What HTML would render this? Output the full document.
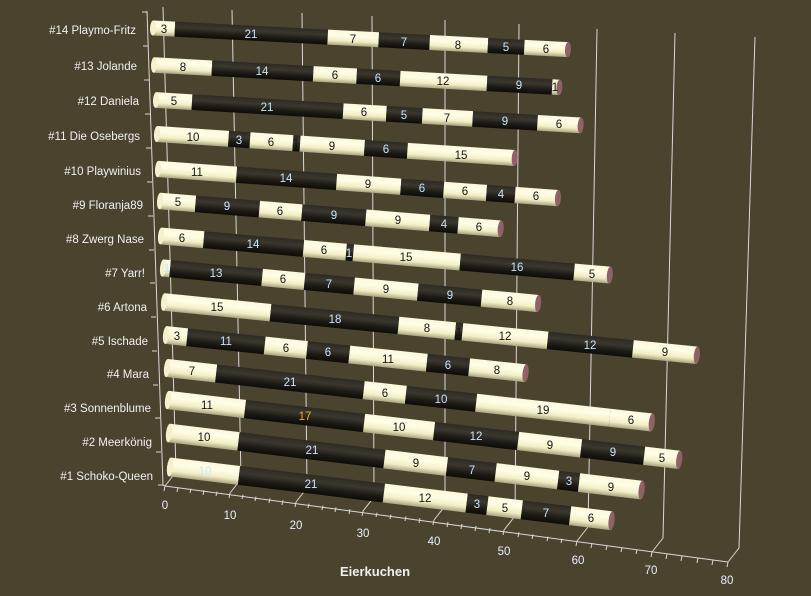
<!DOCTYPE html>
<html><head><meta charset="utf-8"><style>
html,body{margin:0;padding:0;background:#4a442e;}
svg{display:block;font-family:"Liberation Sans",sans-serif;}
.cl{fill:#f0f0f0;font-size:11.5px;text-anchor:end;}
.al{fill:#e8f0ff;font-size:11.5px;text-anchor:middle;}
.d{fill:#c8e4ff;font-size:11.5px;text-anchor:middle;}
.c{fill:#151515;font-size:11.5px;text-anchor:middle;}
.g{stroke:#d8d8d8;stroke-width:1;fill:none;}
</style></head><body>
<svg width="811" height="596" viewBox="0 0 811 596" xmlns="http://www.w3.org/2000/svg">
<defs>
<linearGradient id="cr" x1="0" y1="0" x2="0" y2="1">
<stop offset="0" stop-color="#fbf8dc"/><stop offset="0.35" stop-color="#fffde6"/><stop offset="0.7" stop-color="#f2eec4"/><stop offset="1" stop-color="#a9a582"/></linearGradient>
<linearGradient id="dk" x1="0" y1="0" x2="0" y2="1">
<stop offset="0" stop-color="#2c2a22"/><stop offset="0.35" stop-color="#3a382e"/><stop offset="0.7" stop-color="#1c1a14"/><stop offset="1" stop-color="#0c0b08"/></linearGradient>
</defs>
<rect width="811" height="596" fill="#4a442e"/>

<g class="g">
<polyline points="163,7 176,472 165,486"/>
<polyline points="232,10 241,479 230,493"/>
<polyline points="302,13 307,488 296,502"/>
<polyline points="372,16 374,497 363,511"/>
<polyline points="445,20 445,506 434,520"/>
<polyline points="519,24 515,516 504,530"/>
<polyline points="597,29 588,527 577,541"/>
<polyline points="675,33 663,538 652,552"/>
<polyline points="755,37 739,548 728,562"/>
<polyline points="147,11 163,485 165,486 728,562"/>
</g>
<g class="g">
<line x1="142" y1="12" x2="147" y2="12"/><line x1="143" y1="46" x2="148" y2="46"/><line x1="144" y1="80" x2="149" y2="80"/><line x1="145" y1="114" x2="150" y2="114"/><line x1="146" y1="148" x2="151" y2="148"/><line x1="147" y1="182" x2="152" y2="182"/><line x1="148" y1="216" x2="153" y2="216"/><line x1="149" y1="250" x2="154" y2="250"/><line x1="150" y1="283" x2="155" y2="283"/><line x1="151" y1="317" x2="156" y2="317"/><line x1="152" y1="351" x2="157" y2="351"/><line x1="153" y1="385" x2="158" y2="385"/><line x1="155" y1="418" x2="160" y2="418"/><line x1="156" y1="452" x2="161" y2="452"/><line x1="158" y1="485" x2="163" y2="485"/>
</g>
<g class="g">
<line x1="165" y1="486" x2="164" y2="491"/><line x1="178" y1="487.4" x2="177" y2="492"/><line x1="191" y1="488.8" x2="190" y2="493"/><line x1="204" y1="490.2" x2="203" y2="495"/><line x1="217" y1="491.6" x2="216" y2="496"/><line x1="230" y1="493" x2="229" y2="498"/>
<line x1="243" y1="494.8" x2="242" y2="499"/><line x1="256" y1="496.6" x2="255" y2="501"/><line x1="270" y1="498.4" x2="269" y2="503"/><line x1="283" y1="500.2" x2="282" y2="505"/><line x1="296" y1="502" x2="295" y2="507"/>
<line x1="309" y1="503.8" x2="308" y2="508"/><line x1="323" y1="505.6" x2="322" y2="510"/><line x1="336" y1="507.4" x2="335" y2="512"/><line x1="350" y1="509.2" x2="349" y2="514"/><line x1="363" y1="511" x2="362" y2="516"/>
<line x1="377" y1="512.8" x2="376" y2="517"/><line x1="391" y1="514.6" x2="390" y2="519"/><line x1="406" y1="516.4" x2="405" y2="521"/><line x1="420" y1="518.2" x2="419" y2="523"/><line x1="434" y1="520" x2="433" y2="525"/>
<line x1="448" y1="522" x2="447" y2="527"/><line x1="462" y1="524" x2="461" y2="529"/><line x1="476" y1="526" x2="475" y2="531"/><line x1="490" y1="528" x2="489" y2="533"/><line x1="504" y1="530" x2="503" y2="535"/>
<line x1="519" y1="532.2" x2="518" y2="537"/><line x1="533" y1="534.4" x2="532" y2="539"/><line x1="548" y1="536.6" x2="547" y2="541"/><line x1="562" y1="538.8" x2="561" y2="543"/><line x1="577" y1="541" x2="576" y2="546"/>
<line x1="592" y1="543.2" x2="591" y2="548"/><line x1="607" y1="545.4" x2="606" y2="550"/><line x1="622" y1="547.6" x2="621" y2="552"/><line x1="637" y1="549.8" x2="636" y2="554"/><line x1="652" y1="552" x2="651" y2="557"/>
<line x1="667" y1="554" x2="666" y2="559"/><line x1="682" y1="556" x2="681" y2="561"/><line x1="698" y1="558" x2="697" y2="563"/><line x1="713" y1="560" x2="712" y2="565"/><line x1="728" y1="562" x2="727" y2="567"/>
</g>
<g class="al">
<text x="165" y="509">0</text><text x="230" y="519">10</text><text x="296" y="529">20</text><text x="363" y="537">30</text><text x="434" y="545">40</text><text x="504" y="555">50</text><text x="578" y="564">60</text><text x="651" y="574">70</text><text x="727" y="584">80</text>
</g>
<text x="375" y="576" text-anchor="middle" style="fill:#f0f0f0;font-size:13px;font-weight:bold">Eierkuchen</text>

<g class="cl">
<text x="136" y="34">#14 Playmo-Fritz</text>
<text x="137" y="70">#13 Jolande</text>
<text x="139" y="105">#12 Daniela</text>
<text x="140" y="140">#11 Die Osebergs</text>
<text x="141" y="175">#10 Playwinius</text>
<text x="143" y="209">#9 Floranja89</text>
<text x="144" y="243">#8 Zwerg Nase</text>
<text x="145" y="277">#7 Yarr!</text>
<text x="147" y="311">#6 Artona</text>
<text x="148" y="345">#5 Ischade</text>
<text x="149" y="378">#4 Mara</text>
<text x="151" y="412">#3 Sonnenblume</text>
<text x="152" y="446">#2 Meerkönig</text>
<text x="153" y="480">#1 Schoko-Queen</text>
</g>

<!-- Row 14 -->
<g transform="translate(153,28) rotate(2.99)">
<g transform="scale(7.29,1)">
<rect x="0" y="-7.5" width="3" height="15" fill="url(#cr)"/><rect x="3" y="-7.5" width="21" height="15" fill="url(#dk)"/><rect x="24" y="-7.5" width="7" height="15" fill="url(#cr)"/><rect x="31" y="-7.5" width="7" height="15" fill="url(#dk)"/><rect x="38" y="-7.5" width="8" height="15" fill="url(#cr)"/><rect x="46" y="-7.5" width="5" height="15" fill="url(#dk)"/><rect x="51" y="-7.5" width="6" height="15" fill="url(#cr)"/>
</g>
<ellipse cx="0" cy="0" rx="3" ry="7.5" fill="#f4f1cf"/><ellipse cx="415.5" cy="0" rx="3" ry="7.5" fill="#8e6266"/>
<g transform="rotate(-2.99)"><text class="c" x="11" y="5">3</text><text class="d" x="98" y="10">21</text><text class="c" x="200" y="15">7</text><text class="d" x="251" y="18">7</text><text class="c" x="305" y="21">8</text><text class="d" x="353" y="23">5</text><text class="c" x="393" y="25">6</text></g>
</g>
<!-- Row 13 -->
<g transform="translate(154,65) rotate(3.16)">
<g transform="scale(7.25,1)">
<rect x="0" y="-7.7" width="8" height="15.4" fill="url(#cr)"/><rect x="8" y="-7.7" width="14" height="15.4" fill="url(#dk)"/><rect x="22" y="-7.7" width="6" height="15.4" fill="url(#cr)"/><rect x="28" y="-7.7" width="6" height="15.4" fill="url(#dk)"/><rect x="34" y="-7.7" width="12" height="15.4" fill="url(#cr)"/><rect x="46" y="-7.7" width="9" height="15.4" fill="url(#dk)"/><rect x="55" y="-7.7" width="1" height="15.4" fill="url(#cr)"/>
</g>
<ellipse cx="0" cy="0" rx="3" ry="7.7" fill="#f4f1cf"/><ellipse cx="406" cy="0" rx="3" ry="7.7" fill="#8e6266"/>
<g transform="rotate(-3.16)"><text class="c" x="29" y="6">8</text><text class="d" x="108" y="10">14</text><text class="c" x="181" y="14">6</text><text class="d" x="224" y="17">6</text><text class="c" x="289" y="20">12</text><text class="d" x="365" y="24">9</text><text class="c" x="401" y="26">1</text></g>
</g>
<!-- Row 12 -->
<g transform="translate(156,100) rotate(3.42)">
<g transform="scale(7.21,1)">
<rect x="0" y="-7.85" width="5" height="15.7" fill="url(#cr)"/><rect x="5" y="-7.85" width="21" height="15.7" fill="url(#dk)"/><rect x="26" y="-7.85" width="6" height="15.7" fill="url(#cr)"/><rect x="32" y="-7.85" width="5" height="15.7" fill="url(#dk)"/><rect x="37" y="-7.85" width="7" height="15.7" fill="url(#cr)"/><rect x="44" y="-7.85" width="9" height="15.7" fill="url(#dk)"/><rect x="53" y="-7.85" width="6" height="15.7" fill="url(#cr)"/>
</g>
<ellipse cx="0" cy="0" rx="3" ry="7.85" fill="#f4f1cf"/><ellipse cx="425.4" cy="0" rx="3" ry="7.85" fill="#8e6266"/>
<g transform="rotate(-3.42)"><text class="c" x="18" y="5">5</text><text class="d" x="111" y="11">21</text><text class="c" x="208" y="16">6</text><text class="d" x="248" y="19">5</text><text class="c" x="291" y="22">7</text><text class="d" x="349" y="25">9</text><text class="c" x="403" y="28">6</text></g>
</g>
<!-- Row 11 -->
<g transform="translate(157,134) rotate(3.84)">
<g transform="scale(7.17,1)">
<rect x="0" y="-8" width="10" height="16" fill="url(#cr)"/><rect x="10" y="-8" width="3" height="16" fill="url(#dk)"/><rect x="13" y="-8" width="6" height="16" fill="url(#cr)"/><rect x="19" y="-8" width="1" height="16" fill="url(#dk)"/><rect x="20" y="-8" width="9" height="16" fill="url(#cr)"/><rect x="29" y="-8" width="6" height="16" fill="url(#dk)"/><rect x="35" y="-8" width="15" height="16" fill="url(#cr)"/>
</g>
<ellipse cx="0" cy="0" rx="3" ry="8" fill="#f4f1cf"/><ellipse cx="358.5" cy="0" rx="3" ry="8" fill="#8e6266"/>
<g transform="rotate(-3.84)"><text class="c" x="36" y="7">10</text><text class="d" x="82" y="10">3</text><text class="c" x="114" y="12">6</text><text class="c" x="139" y="13">1</text><text class="c" x="175" y="16">9</text><text class="d" x="229" y="19">6</text><text class="c" x="304" y="25">15</text></g>
</g>
<!-- Row 10 -->
<g transform="translate(158,169) rotate(4.17)">
<g transform="scale(7.16,1)">
<rect x="0" y="-8.15" width="11" height="16.3" fill="url(#cr)"/><rect x="11" y="-8.15" width="14" height="16.3" fill="url(#dk)"/><rect x="25" y="-8.15" width="9" height="16.3" fill="url(#cr)"/><rect x="34" y="-8.15" width="6" height="16.3" fill="url(#dk)"/><rect x="40" y="-8.15" width="6" height="16.3" fill="url(#cr)"/><rect x="46" y="-8.15" width="4" height="16.3" fill="url(#dk)"/><rect x="50" y="-8.15" width="6" height="16.3" fill="url(#cr)"/>
</g>
<ellipse cx="0" cy="0" rx="3" ry="8.15" fill="#f4f1cf"/><ellipse cx="401" cy="0" rx="3" ry="8.15" fill="#8e6266"/>
<g transform="rotate(-4.17)"><text class="c" x="39" y="7">11</text><text class="d" x="128" y="13">14</text><text class="c" x="210" y="19">9</text><text class="d" x="264" y="23">6</text><text class="c" x="307" y="26">6</text><text class="d" x="343" y="29">4</text><text class="c" x="378" y="31">6</text></g>
</g>
<!-- Row 9 -->
<g transform="translate(160,201) rotate(4.67)">
<g transform="scale(7.12,1)">
<rect x="0" y="-8.3" width="5" height="16.6" fill="url(#cr)"/><rect x="5" y="-8.3" width="9" height="16.6" fill="url(#dk)"/><rect x="14" y="-8.3" width="6" height="16.6" fill="url(#cr)"/><rect x="20" y="-8.3" width="9" height="16.6" fill="url(#dk)"/><rect x="29" y="-8.3" width="9" height="16.6" fill="url(#cr)"/><rect x="38" y="-8.3" width="4" height="16.6" fill="url(#dk)"/><rect x="42" y="-8.3" width="6" height="16.6" fill="url(#cr)"/>
</g>
<ellipse cx="0" cy="0" rx="3" ry="8.3" fill="#f4f1cf"/><ellipse cx="341.8" cy="0" rx="3" ry="8.3" fill="#8e6266"/>
<g transform="rotate(-4.67)"><text class="c" x="18" y="5">5</text><text class="d" x="67" y="9">9</text><text class="c" x="120" y="14">6</text><text class="d" x="174" y="18">9</text><text class="c" x="238" y="23">9</text><text class="d" x="284" y="27">4</text><text class="c" x="319" y="30">6</text></g>
</g>
<!-- Row 8 -->
<g transform="translate(161,236) rotate(4.98)">
<g transform="scale(7.15,1)">
<rect x="0" y="-8.45" width="6" height="16.9" fill="url(#cr)"/><rect x="6" y="-8.45" width="14" height="16.9" fill="url(#dk)"/><rect x="20" y="-8.45" width="6" height="16.9" fill="url(#cr)"/><rect x="26" y="-8.45" width="1" height="16.9" fill="url(#dk)"/><rect x="27" y="-8.45" width="15" height="16.9" fill="url(#cr)"/><rect x="42" y="-8.45" width="16" height="16.9" fill="url(#dk)"/><rect x="58" y="-8.45" width="5" height="16.9" fill="url(#cr)"/>
</g>
<ellipse cx="0" cy="0" rx="3" ry="8.45" fill="#f4f1cf"/><ellipse cx="450.5" cy="0" rx="3" ry="8.45" fill="#8e6266"/>
<g transform="rotate(-4.98)"><text class="c" x="21" y="6">6</text><text class="d" x="92" y="12">14</text><text class="c" x="163" y="18">6</text><text class="d" x="188" y="21">1</text><text class="c" x="245" y="25">15</text><text class="d" x="356" y="35">16</text><text class="c" x="431" y="42">5</text></g>
</g>
<!-- Row 7 -->
<g transform="translate(163,268) rotate(5.41)">
<g transform="scale(7.11,1)">
<rect x="0" y="-8.6" width="1" height="17.2" fill="url(#cr)"/><rect x="1" y="-8.6" width="13" height="17.2" fill="url(#dk)"/><rect x="14" y="-8.6" width="6" height="17.2" fill="url(#cr)"/><rect x="20" y="-8.6" width="7" height="17.2" fill="url(#dk)"/><rect x="27" y="-8.6" width="9" height="17.2" fill="url(#cr)"/><rect x="36" y="-8.6" width="9" height="17.2" fill="url(#dk)"/><rect x="45" y="-8.6" width="8" height="17.2" fill="url(#cr)"/>
</g>
<ellipse cx="0" cy="0" rx="3" ry="8.6" fill="#f4f1cf"/><ellipse cx="376.8" cy="0" rx="3" ry="8.6" fill="#8e6266"/>
<g transform="rotate(-5.41)"><text class="d" x="4" y="4">1</text><text class="d" x="53" y="9">13</text><text class="c" x="120" y="15">6</text><text class="d" x="166" y="20">7</text><text class="c" x="223" y="25">9</text><text class="d" x="287" y="31">9</text><text class="c" x="347" y="37">8</text></g>
</g>
<!-- Row 6 -->
<g transform="translate(164,302) rotate(5.71)">
<g transform="scale(7.14,1)">
<rect x="0" y="-8.75" width="15" height="17.5" fill="url(#cr)"/><rect x="15" y="-8.75" width="18" height="17.5" fill="url(#dk)"/><rect x="33" y="-8.75" width="8" height="17.5" fill="url(#cr)"/><rect x="41" y="-8.75" width="1" height="17.5" fill="url(#dk)"/><rect x="42" y="-8.75" width="12" height="17.5" fill="url(#cr)"/><rect x="54" y="-8.75" width="12" height="17.5" fill="url(#dk)"/><rect x="66" y="-8.75" width="9" height="17.5" fill="url(#cr)"/>
</g>
<ellipse cx="0" cy="0" rx="3" ry="8.75" fill="#f4f1cf"/><ellipse cx="535.5" cy="0" rx="3" ry="8.75" fill="#8e6266"/>
<g transform="rotate(-5.71)"><text class="c" x="53" y="9">15</text><text class="d" x="171" y="21">18</text><text class="c" x="263" y="30">8</text><text class="c" x="295" y="34">1</text><text class="c" x="341" y="38">12</text><text class="d" x="426" y="47">12</text><text class="c" x="501" y="54">9</text></g>
</g>
<!-- Row 5 -->
<g transform="translate(166,335) rotate(6.07)">
<g transform="scale(7.09,1)">
<rect x="0" y="-8.9" width="3" height="17.8" fill="url(#cr)"/><rect x="3" y="-8.9" width="11" height="17.8" fill="url(#dk)"/><rect x="14" y="-8.9" width="6" height="17.8" fill="url(#cr)"/><rect x="20" y="-8.9" width="6" height="17.8" fill="url(#dk)"/><rect x="26" y="-8.9" width="11" height="17.8" fill="url(#cr)"/><rect x="37" y="-8.9" width="6" height="17.8" fill="url(#dk)"/><rect x="43" y="-8.9" width="8" height="17.8" fill="url(#cr)"/>
</g>
<ellipse cx="0" cy="0" rx="3" ry="8.9" fill="#f4f1cf"/><ellipse cx="361.6" cy="0" rx="3" ry="8.9" fill="#8e6266"/>
<g transform="rotate(-6.07)"><text class="c" x="11" y="5">3</text><text class="d" x="60" y="10">11</text><text class="c" x="120" y="17">6</text><text class="d" x="162" y="21">6</text><text class="c" x="222" y="28">11</text><text class="d" x="282" y="34">6</text><text class="c" x="331" y="39">8</text></g>
</g>
<!-- Row 4 -->
<g transform="translate(167,368) rotate(6.41)">
<g transform="scale(7.07,1)">
<rect x="0" y="-9.05" width="7" height="18.1" fill="url(#cr)"/><rect x="7" y="-9.05" width="21" height="18.1" fill="url(#dk)"/><rect x="28" y="-9.05" width="6" height="18.1" fill="url(#cr)"/><rect x="34" y="-9.05" width="10" height="18.1" fill="url(#dk)"/><rect x="44" y="-9.05" width="19" height="18.1" fill="url(#cr)"/><rect x="63" y="-9.05" width="6" height="18.1" fill="url(#cr)"/>
</g>
<ellipse cx="0" cy="0" rx="3" ry="9.05" fill="#f4f1cf"/><ellipse cx="487.8" cy="0" rx="3" ry="9.05" fill="#8e6266"/>
<g transform="rotate(-6.41)"><text class="c" x="25" y="7">7</text><text class="d" x="123" y="18">21</text><text class="c" x="218" y="29">6</text><text class="d" x="274" y="35">10</text><text class="c" x="376" y="46">19</text><text class="c" x="464" y="56">6</text></g>
</g>
<!-- Row 3 -->
<g transform="translate(168,400) rotate(6.68)">
<g transform="scale(7.05,1)">
<rect x="0" y="-9.2" width="11" height="18.4" fill="url(#cr)"/><rect x="11" y="-9.2" width="17" height="18.4" fill="url(#dk)"/><rect x="28" y="-9.2" width="10" height="18.4" fill="url(#cr)"/><rect x="38" y="-9.2" width="12" height="18.4" fill="url(#dk)"/><rect x="50" y="-9.2" width="9" height="18.4" fill="url(#cr)"/><rect x="59" y="-9.2" width="9" height="18.4" fill="url(#dk)"/><rect x="68" y="-9.2" width="5" height="18.4" fill="url(#cr)"/>
</g>
<ellipse cx="0" cy="0" rx="3" ry="9.2" fill="#f4f1cf"/><ellipse cx="514.7" cy="0" rx="3" ry="9.2" fill="#8e6266"/>
<g transform="rotate(-6.68)"><text class="c" x="39" y="9">11</text><text class="d" x="137" y="20" style="fill:#f0a830">17</text><text class="c" x="231" y="31">10</text><text class="d" x="308" y="40">12</text><text class="c" x="382" y="49">9</text><text class="d" x="445" y="56">9</text><text class="c" x="494" y="62">5</text></g>
</g>
<!-- Row 2 -->
<g transform="translate(169,433) rotate(6.89)">
<g transform="scale(7.0,1)">
<rect x="0" y="-9.35" width="10" height="18.7" fill="url(#cr)"/><rect x="10" y="-9.35" width="21" height="18.7" fill="url(#dk)"/><rect x="31" y="-9.35" width="9" height="18.7" fill="url(#cr)"/><rect x="40" y="-9.35" width="7" height="18.7" fill="url(#dk)"/><rect x="47" y="-9.35" width="9" height="18.7" fill="url(#cr)"/><rect x="56" y="-9.35" width="3" height="18.7" fill="url(#dk)"/><rect x="59" y="-9.35" width="9" height="18.7" fill="url(#cr)"/>
</g>
<ellipse cx="0" cy="0" rx="3" ry="9.35" fill="#f4f1cf"/><ellipse cx="476" cy="0" rx="3" ry="9.35" fill="#8e6266"/>
<g transform="rotate(-6.89)"><text class="c" x="35" y="8">10</text><text class="d" x="143" y="21">21</text><text class="c" x="247" y="34">9</text><text class="d" x="303" y="41">7</text><text class="c" x="358" y="47">9</text><text class="d" x="400" y="52">3</text><text class="c" x="442" y="58">9</text></g>
</g>
<!-- Row 1 -->
<g transform="translate(170,467) rotate(6.94)">
<g transform="scale(6.95,1)">
<rect x="0" y="-9.5" width="10" height="19" fill="url(#cr)"/><rect x="10" y="-9.5" width="21" height="19" fill="url(#dk)"/><rect x="31" y="-9.5" width="12" height="19" fill="url(#cr)"/><rect x="43" y="-9.5" width="3" height="19" fill="url(#dk)"/><rect x="46" y="-9.5" width="5" height="19" fill="url(#cr)"/><rect x="51" y="-9.5" width="7" height="19" fill="url(#dk)"/><rect x="58" y="-9.5" width="6" height="19" fill="url(#cr)"/>
</g>
<ellipse cx="0" cy="0" rx="3" ry="9.5" fill="#f4f1cf"/><ellipse cx="444.8" cy="0" rx="3" ry="9.5" fill="#8e6266"/>
<g transform="rotate(-6.94)"><text class="d" x="35" y="8">10</text><text class="d" x="141" y="21">21</text><text class="c" x="255" y="35">12</text><text class="d" x="307" y="41">3</text><text class="c" x="335" y="45">5</text><text class="d" x="376" y="50">7</text><text class="c" x="421" y="55">6</text></g>
</g>
</svg>
</body></html>
